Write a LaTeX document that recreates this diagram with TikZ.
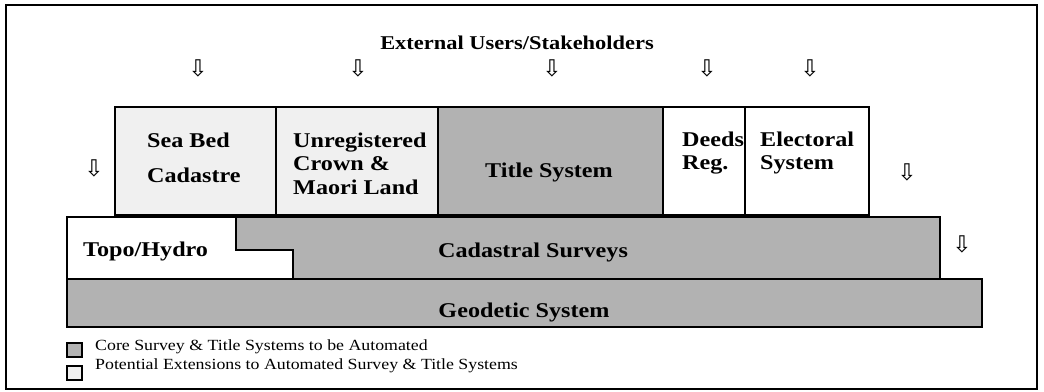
\documentclass[tikz,border=0pt]{standalone}
\usepackage{fontspec}
\setmainfont{Liberation Serif}
\newfontfamily\bxfont{Liberation Serif}[FakeStretch=1.15]
\newfontfamily\lgfont{Liberation Serif}[FakeStretch=1.15]
\newfontfamily\dvfont{DejaVu Sans}
\definecolor{coregray}{RGB}{178,178,178}
\definecolor{extlight}{RGB}{240,240,240}
\begin{document}
\begin{tikzpicture}[x=1pt,y=-1pt,
  frame/.style={draw=black,line width=1.5pt},
  core/.style={frame,fill=coregray},
  ext/.style={frame,fill=extlight},
  plain/.style={frame,fill=white},
  lbl/.style={font=\bxfont\bfseries\fontsize{21}{24}\selectfont,inner sep=0pt,anchor=base west},
  clbl/.style={lbl,anchor=base},
  ttl/.style={font=\bxfont\bfseries\fontsize{19.5}{24}\selectfont,inner sep=0pt,anchor=base},
  arr/.style={font=\dvfont\fontsize{23}{23}\selectfont,inner sep=0pt},
  leg/.style={font=\lgfont\fontsize{15.5}{18}\selectfont,inner sep=0pt,anchor=base west}]
\useasboundingbox (0,0) rectangle (1044,391);
\fill[white] (0,0) rectangle (1044,391);
% outer frame
\draw[line width=2.5pt] (6,5) rectangle (1037,389);

% top row
\draw[ext] (115,107) rectangle (276,215);
\draw[ext] (276,107) rectangle (438,215);
\draw[core] (438,107) rectangle (663,215);
\draw[plain] (663,107) rectangle (745,215);
\draw[plain] (745,107) rectangle (869,215);

% middle row
\draw[plain] (67,217) -- (236,217) -- (236,250) -- (293,250) -- (293,279) -- (67,279) -- cycle;
\draw[core] (236,217) -- (940,217) -- (940,279) -- (293,279) -- (293,250) -- (236,250) -- cycle;

% bottom row
\draw[core] (67,279) rectangle (982,327);

% texts
\node[ttl] (ext) at (517,49) {External Users/Stakeholders};
\node[lbl] (sb1) at (147,147) {Sea Bed};
\node[lbl] (sb2) at (147,182) {Cadastre};
\node[lbl] (ur1) at (293,147) {Unregistered};
\node[lbl] (ur2) at (293,170) {Crown \&};
\node[lbl] (ur3) at (293,194) {Maori Land};
\node[clbl] (ts) at (549,177) {Title System};
\node[lbl] (dr1) at (682,146) {Deeds};
\node[lbl] (dr2) at (682,169) {Reg.};
\node[lbl] (el1) at (760,146) {Electoral};
\node[lbl] (el2) at (760,169) {System};
\node[lbl] (th) at (83,256) {Topo/Hydro};
\node[clbl] (cs) at (533,257) {Cadastral Surveys};
\node[clbl] (gs) at (524,317) {Geodetic System};

% arrows
\node[arr] (a1) at (198,68) {⇩};
\node[arr] (a2) at (358,68) {⇩};
\node[arr] (a3) at (552,68) {⇩};
\node[arr] (a4) at (707,68) {⇩};
\node[arr] (a5) at (810,68) {⇩};
\node[arr] (a6) at (94,168) {⇩};
\node[arr] (a7) at (907,172) {⇩};
\node[arr] (a8) at (962,244) {⇩};

% legend
\draw[core,line width=1.2pt] (67,343) rectangle (82,357);
\draw[ext,line width=1.2pt] (67,366) rectangle (82,380);
\node[leg] (l1) at (95,350) {Core Survey \& Title Systems to be Automated};
\node[leg] (l2) at (95,369) {Potential Extensions to Automated Survey \& Title Systems};
\end{tikzpicture}
\end{document}
